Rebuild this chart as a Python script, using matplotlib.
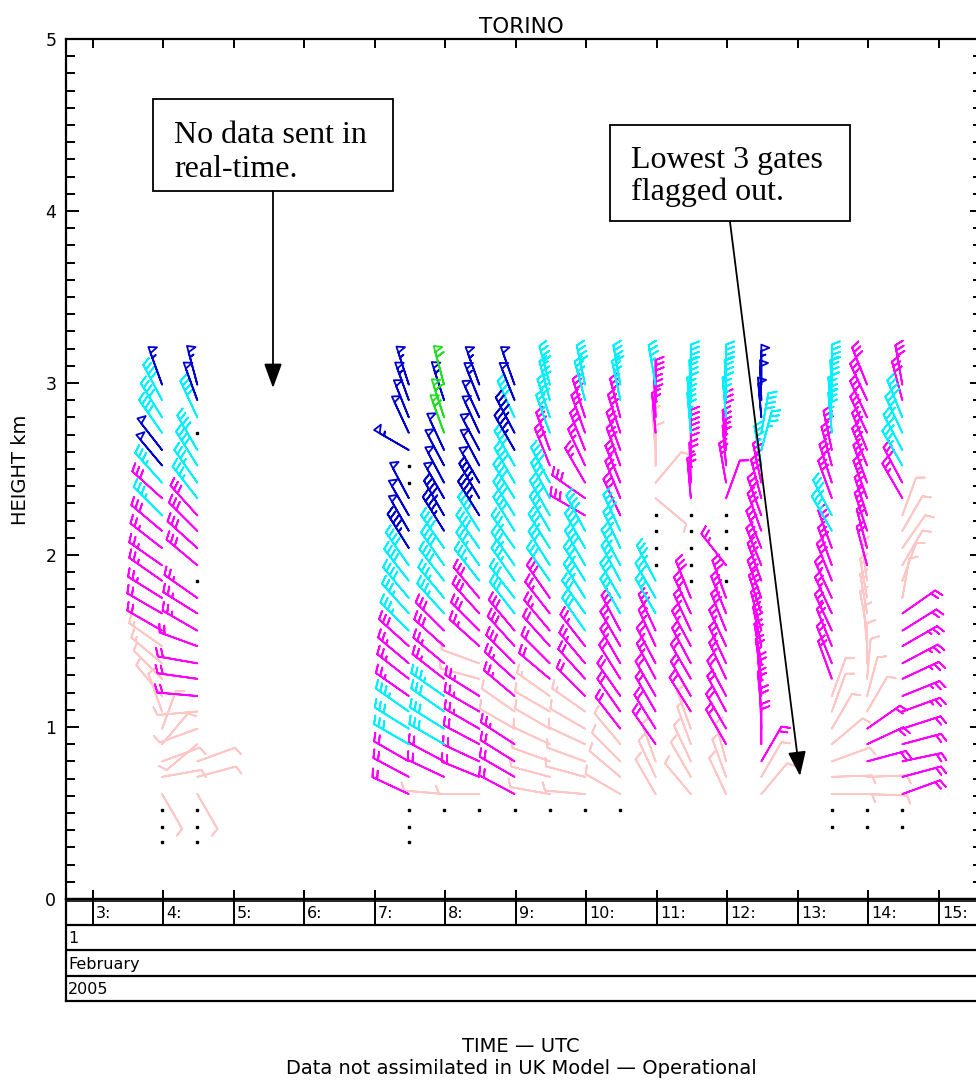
import numpy as np
import matplotlib
matplotlib.use("Agg")
import matplotlib.pyplot as plt
from matplotlib.patches import Rectangle, FancyArrowPatch
from matplotlib.ticker import MultipleLocator

# ---------------- data ----------------
GATE_KM = [0.33, 0.42, 0.52, 0.61, 0.71, 0.80, 0.90, 0.99, 1.09, 1.18,
           1.28, 1.37, 1.47, 1.56, 1.66, 1.75, 1.85, 1.94, 2.04, 2.14,
           2.23, 2.33, 2.42, 2.52, 2.61, 2.71, 2.80, 2.90, 2.99]

PROFILE_TIMES = [3.98, 4.48, 7.48, 7.98, 8.48, 8.98, 9.48, 9.98,
                 10.48, 10.98, 11.48, 11.98, 12.48, 13.48, 13.98, 14.48]

# colour class per gate: p pink, m magenta, c cyan, b blue, g green,
# '.' flagged gate (dot), ' ' nothing
CLASS_COL = [
    "...pppppppppp" + "mmmmmmm" + "cmc" + "bb" + "ccc" + "b",
    "...pppppp" + "mmmmmmm" + "." + "mmmm" + "cccc" + "." + "cbb",
    "...mmmcccmmmmcccccbbbb..bbbbb",
    "  .pmmccccmmmmcccccbbbbbbggbg",
    "  .pmmmmmmppmmmmccccbbbbbbbbb",
    "  .mmmmppmmmmmccccccccccbbcbb",
    "  .pppppppmmmmmmcccccccmmcccc",
    "  .ppppppmmmmcccccccmmmmmmmcc",
    "  .ppppmmmmmmmccccccmmmmmmmcc",
    "   ppp" + "mmmmmmmm" + "ccc" + "...." + "pppp" + "mmm" + "c",
    "   ppppp" + "mmmmmmmm" + "....." + "mmmm" + "cccc",
    "   ppp" + "mmmmmmmmmm" + "." + "m" + "..." + "mmmmm" + "ccc",
    "   pp" + "mmmmmmmmmmmmmmmmmm" + "ccc" + "bbb",
    " ..ppppppp" + "mmmmmmmmm" + "cc" + "mmmm" + "cccc",
    " ..pp" + "mmm" + "ppppppppp" + "mmmmmmmmmmmm",
    " ..mmmmmmmmmmmm" + "pppppp" + "mm" + "ccc" + "c" + "mm",
]

# direction the wind blows from (deg), per gate
DIR_COL = [
    [0, 0, 0, 150, 80, 70, 40, 20, 340, 320, 315, 310, 305, 300, 300, 302, 305, 305, 308, 310,
     315, 312, 318, 320, 322, 325, 328, 332, 340],
    [0, 0, 0, 150, 75, 70, 230, 250, 265, 275, 278, 280, 290, 300, 302, 305, 0, 310, 312, 315,
     318, 322, 325, 328, 330, 0, 335, 340, 345],
    [0, 0, 0, 295, 298, 300, 300, 302, 305, 305, 308, 310, 312, 315, 318, 320, 322, 325, 328, 330,
     330, 332, 0, 0, 300, 335, 338, 340, 342],
    [0, 0, 0, 275, 295, 298, 300, 302, 305, 305, 308, 310, 312, 315, 318, 320, 322, 325, 325, 328,
     330, 330, 332, 332, 335, 340, 342, 342, 345],
    [0, 0, 0, 270, 292, 295, 298, 300, 300, 302, 285, 290, 312, 315, 318, 320, 322, 325, 325, 328,
     328, 330, 330, 332, 332, 335, 335, 338, 340],
    [0, 0, 0, 298, 300, 302, 303, 300, 305, 310, 312, 315, 318, 320, 322, 322, 325, 325, 325, 328,
     328, 328, 330, 330, 330, 332, 335, 338, 340],
    [0, 0, 0, 280, 285, 290, 295, 300, 300, 305, 310, 315, 318, 320, 322, 325, 325, 328, 328, 330,
     330, 332, 332, 338, 340, 340, 342, 345, 345],
    [0, 0, 0, 275, 285, 290, 295, 300, 305, 315, 318, 320, 322, 325, 325, 328, 328, 330, 330, 332,
     300, 305, 330, 335, 338, 340, 342, 345, 348],
    [0, 0, 0, 300, 310, 315, 320, 322, 325, 325, 328, 330, 330, 332, 330, 330, 332, 332, 335, 335,
     335, 338, 338, 340, 340, 342, 345, 348, 350],
    [0, 0, 0, 330, 335, 340, 325, 328, 330, 330, 332, 332, 335, 335, 330, 330, 332, 0, 0, 0,
     0, 130, 40, 360, 355, 355, 358, 360, 350],
    [0, 0, 0, 320, 330, 335, 340, 340, 328, 330, 330, 332, 332, 335, 335, 338, 0, 0, 0, 0,
     0, 355, 358, 360, 360, 355, 355, 358, 360],
    [0, 0, 0, 335, 340, 345, 330, 330, 332, 332, 335, 335, 335, 338, 338, 340, 0, 322, 0, 0,
     0, 20, 350, 355, 355, 358, 355, 358, 360],
    [0, 0, 0, 40, 30, 30, 360, 358, 355, 355, 352, 350, 348, 345, 342, 340, 340, 338, 338, 340,
     340, 345, 348, 350, 15, 10, 355, 358, 360],
    [0, 0, 0, 90, 88, 70, 50, 30, 20, 20, 340, 338, 338, 335, 335, 335, 338, 340, 340, 330,
     332, 340, 342, 345, 348, 355, 355, 358, 360],
    [0, 0, 0, 92, 88, 75, 65, 55, 30, 15, 5, 360, 355, 350, 350, 350, 352, 345, 345, 342,
     342, 340, 340, 338, 338, 335, 335, 335, 338],
    [0, 0, 0, 70, 75, 78, 75, 72, 70, 68, 65, 62, 60, 58, 55, 10, 20, 30, 35, 30,
     20, 330, 332, 330, 332, 335, 338, 345, 350],
]

# wind speed (knots), per gate
SPD_COL = [
    [0, 0, 0, 8, 10, 10, 8, 8, 10, 12, 12, 15, 15, 20, 20, 25, 25, 25, 25, 28,
     35, 30, 35, 50, 50, 40, 40, 40, 55],
    [0, 0, 0, 8, 12, 10, 8, 10, 12, 20, 20, 22, 22, 25, 25, 25, 0, 28, 28, 30,
     30, 35, 35, 38, 40, 0, 40, 50, 55],
    [0, 0, 0, 20, 22, 22, 32, 32, 35, 25, 25, 25, 28, 35, 35, 38, 38, 40, 45, 48,
     50, 50, 0, 0, 55, 50, 52, 55, 55],
    [0, 0, 0, 10, 20, 22, 30, 32, 32, 35, 25, 25, 28, 28, 35, 35, 38, 38, 40, 45,
     45, 48, 50, 50, 52, 60, 60, 55, 60],
    [0, 0, 0, 10, 20, 22, 22, 25, 25, 25, 12, 12, 25, 28, 28, 30, 35, 35, 38, 40,
     45, 45, 48, 48, 50, 50, 52, 55, 55],
    [0, 0, 0, 20, 22, 22, 25, 12, 12, 25, 25, 28, 28, 30, 32, 32, 35, 35, 35, 38,
     38, 38, 40, 40, 45, 45, 40, 50, 52],
    [0, 0, 0, 8, 10, 10, 12, 12, 12, 15, 20, 22, 22, 25, 25, 28, 32, 32, 35, 35,
     38, 38, 40, 28, 28, 35, 38, 40, 40],
    [0, 0, 0, 8, 10, 10, 12, 12, 15, 20, 22, 25, 25, 32, 32, 35, 35, 38, 38, 40,
     30, 28, 25, 25, 28, 28, 30, 35, 38],
    [0, 0, 0, 10, 10, 12, 12, 20, 20, 22, 22, 25, 25, 28, 32, 32, 35, 35, 35, 38,
     28, 28, 28, 30, 30, 30, 30, 35, 38],
    [0, 0, 0, 10, 10, 12, 20, 20, 22, 22, 25, 25, 25, 28, 32, 32, 35, 0, 0, 0,
     0, 10, 10, 10, 12, 25, 28, 28, 35],
    [0, 0, 0, 10, 10, 12, 12, 12, 20, 22, 22, 25, 25, 25, 28, 28, 0, 0, 0, 0,
     0, 25, 25, 28, 28, 35, 35, 38, 40],
    [0, 0, 0, 10, 10, 12, 20, 20, 22, 22, 25, 25, 25, 28, 28, 28, 0, 25, 0, 0,
     0, 12, 25, 25, 28, 28, 35, 38, 40],
    [0, 0, 0, 10, 10, 20, 22, 22, 25, 25, 25, 25, 28, 28, 28, 28, 30, 30, 30, 30,
     30, 28, 28, 35, 35, 38, 50, 52, 55],
    [0, 0, 0, 10, 10, 10, 10, 8, 8, 10, 20, 22, 22, 25, 25, 25, 28, 28, 28, 35,
     35, 28, 28, 30, 30, 35, 38, 38, 40],
    [0, 0, 0, 10, 10, 20, 20, 22, 10, 10, 12, 12, 12, 12, 15, 15, 15, 22, 22, 25,
     25, 25, 28, 28, 28, 28, 30, 30, 30],
    [0, 0, 0, 20, 20, 22, 22, 22, 25, 25, 25, 25, 25, 22, 22, 10, 10, 10, 12, 12,
     10, 25, 28, 35, 35, 35, 38, 28, 30],
]

CLASS_COLOURS = {"p": "#FFC6C6", "m": "#FF00FF", "c": "#00F0FF",
                 "b": "#0000D0", "g": "#22DD22"}
HOUR_TICKS = list(range(3, 16))
HOUR_LABELS = [f"{h}:" for h in HOUR_TICKS]
DATE_ROWS = ["1", "February", "2005"]

# ---------------- figure ----------------
W, H = 976, 1082
fig = plt.figure(figsize=(W / 100, H / 100), dpi=100)
plt.rcParams["font.family"] = ["DejaVu Sans"]


def fx(px):
    return px / W


def fy(py):
    return 1 - py / H


AX_L, AX_R, AX_T, AX_B = 66, 982, 39, 899
X0 = 3 - (93 - AX_L) / 70.5
X1 = 3 + (AX_R - 93) / 70.5

ax = fig.add_axes([fx(AX_L), fy(AX_B), (AX_R - AX_L) / W, (AX_B - AX_T) / H])
ax.set_xlim(X0, X1)
ax.set_ylim(0, 5)
for s in ax.spines.values():
    s.set_linewidth(1.6)
ax.set_xticks(HOUR_TICKS)
ax.tick_params(axis="x", direction="in", length=6.5, width=1.4, top=True,
               bottom=True, labelbottom=False)
ax.set_yticks([0, 1, 2, 3, 4, 5])
ax.yaxis.set_minor_locator(MultipleLocator(0.1))
ax.tick_params(axis="y", which="major", direction="in", length=9, width=1.4,
               left=True, right=True, labelsize=12.5, pad=7)
ax.tick_params(axis="y", which="minor", direction="in", length=6.5, width=1.4,
               left=True, right=True)

# barbs
groups = {k: ([], [], [], []) for k in CLASS_COLOURS}
dots_x, dots_y = [], []
for t, cls, dirs, spds in zip(PROFILE_TIMES, CLASS_COL, DIR_COL, SPD_COL):
    for k, c in enumerate(cls):
        if c == ".":
            dots_x.append(t)
            dots_y.append(GATE_KM[k])
        elif c in CLASS_COLOURS:
            d = np.deg2rad(dirs[k])
            s = spds[k]
            g = groups[c]
            g[0].append(t)
            g[1].append(GATE_KM[k])
            g[2].append(-s * np.sin(d))
            g[3].append(-s * np.cos(d))

for c in ["p", "m", "c", "b", "g"]:
    xs, ys, us, vs = groups[c]
    if xs:
        ax.barbs(xs, ys, us, vs, barbcolor=CLASS_COLOURS[c], flagcolor="none",
                 length=7.6, pivot="tip", linewidth=1.3,
                 sizes=dict(spacing=0.13, height=0.2, width=0.16,
                            emptybarb=0.05))
ax.plot(dots_x, dots_y, "s", ms=2, color="black", ls="none")

# date table below the axes
axd = fig.add_axes([fx(AX_L), fy(1001), (AX_R - AX_L) / W, (1001 - AX_B) / H])
axd.set_xlim(X0, X1)
axd.set_ylim(0, 4)
axd.set_xticks([])
axd.set_yticks([])
for s in axd.spines.values():
    s.set_linewidth(1.6)
for yy in (1, 2, 3):
    axd.axhline(yy, color="black", lw=1.6)
axd.axhline(3.93, color="black", lw=1.2)
axd.vlines(HOUR_TICKS, 3, 4, color="black", lw=1.4)
for h, lab in zip(HOUR_TICKS, HOUR_LABELS):
    axd.text(h + 0.04, 3.45, lab, ha="left", va="center", fontsize=11.5)
for i, lab in enumerate(DATE_ROWS):
    axd.text(X0 + 0.03, 2.45 - i, lab, ha="left", va="center", fontsize=11.5)

# titles
fig.text(fx(521), fy(27), "TORINO", ha="center", va="center", fontsize=15.5)
fig.text(fx(21), fy(470), "HEIGHT km", ha="center", va="center",
         rotation=90, fontsize=14)
fig.text(fx(521), fy(1047), "TIME \u2014 UTC", ha="center", va="center",
         fontsize=14)
fig.text(fx(521), fy(1068), "Data not assimilated in UK Model \u2014 Operational",
         ha="center", va="center", fontsize=14)

# annotation boxes
serif = ["Liberation Serif", "DejaVu Serif"]
fig.add_artist(Rectangle((fx(153), fy(191)), (393 - 153) / W, (191 - 99) / H,
                         transform=fig.transFigure, facecolor="white",
                         edgecolor="black", lw=1.3))
fig.text(fx(174), fy(143), "No data sent in", family=serif, fontsize=23,
         va="baseline")
fig.text(fx(174), fy(177), "real-time.", family=serif, fontsize=23,
         va="baseline")
fig.add_artist(Rectangle((fx(610), fy(221)), (850 - 610) / W, (221 - 125) / H,
                         transform=fig.transFigure, facecolor="white",
                         edgecolor="black", lw=1.3))
fig.text(fx(631), fy(168), "Lowest 3 gates", family=serif, fontsize=23,
         va="baseline")
fig.text(fx(631), fy(200), "flagged out.", family=serif, fontsize=23,
         va="baseline")

for (xa, ya), (xb, yb) in [((273, 191), (273, 388)), ((730, 222), (800, 776))]:
    fig.add_artist(FancyArrowPatch((fx(xa), fy(ya)), (fx(xb), fy(yb)),
                                   transform=fig.transFigure,
                                   arrowstyle="-|>,head_length=1.5,head_width=0.55",
                                   mutation_scale=10, color="black", lw=1.3,
                                   shrinkA=0, shrinkB=0))

fig.savefig("out.png", dpi=100)
